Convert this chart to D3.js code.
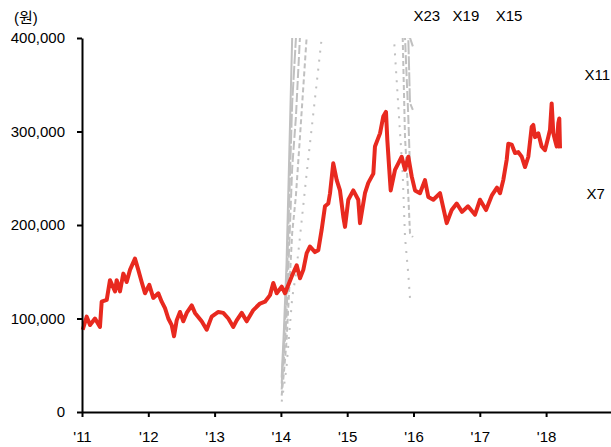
<!DOCTYPE html>
<html>
<head>
<meta charset="utf-8">
<script src="https://cdn.jsdelivr.net/npm/d3@7"></script>
<style>
  body { margin: 0; background: #fff; }
  text { font-family: Arial, "Liberation Sans", sans-serif; }
</style>
</head>
<body>
<div id="chart"></div>
<script>
// 주가 (천원), 연도 소수 표기
const priceT = [2011.011, 2011.071, 2011.121, 2011.196, 2011.271, 2011.297, 2011.373, 2011.422, 2011.498, 2011.523,
  2011.573, 2011.623, 2011.674, 2011.724, 2011.799, 2011.849, 2011.900, 2011.950, 2012.015, 2012.075,
  2012.151, 2012.202, 2012.252, 2012.302, 2012.353, 2012.388, 2012.428, 2012.478, 2012.528, 2012.579,
  2012.655, 2012.704, 2012.805, 2012.881, 2012.956, 2013.056, 2013.131, 2013.207, 2013.282, 2013.333,
  2013.409, 2013.484, 2013.584, 2013.685, 2013.760, 2013.836, 2013.885, 2013.937, 2014.012, 2014.062,
  2014.163, 2014.238, 2014.288, 2014.338, 2014.389, 2014.439, 2014.514, 2014.564, 2014.615, 2014.665,
  2014.715, 2014.741, 2014.790, 2014.842, 2014.891, 2014.941, 2014.967, 2015.017, 2015.092, 2015.167,
  2015.193, 2015.268, 2015.318, 2015.394, 2015.419, 2015.495, 2015.544, 2015.585, 2015.605, 2015.635,
  2015.656, 2015.721, 2015.771, 2015.822, 2015.872, 2015.922, 2015.973, 2016.023, 2016.098, 2016.173,
  2016.223, 2016.299, 2016.400, 2016.501, 2016.576, 2016.652, 2016.732, 2016.822, 2016.928, 2017.003,
  2017.094, 2017.184, 2017.259, 2017.305, 2017.354, 2017.406, 2017.430, 2017.481, 2017.531, 2017.581,
  2017.632, 2017.682, 2017.732, 2017.783, 2017.807, 2017.833, 2017.882, 2017.933, 2017.983, 2018.033,
  2018.059, 2018.084, 2018.109, 2018.134, 2018.160, 2018.184, 2018.199, 2018.210];
const priceV = [88, 102, 93, 100, 91, 118, 120, 141, 129, 141,
  129, 148, 139, 152, 164, 152, 139, 127, 136, 122,
  127, 118, 111, 100, 93, 81, 98, 107, 97, 106,
  114, 106, 97, 88, 102, 107, 106, 100, 91, 98,
  106, 97, 109, 116, 118, 125, 138, 127, 134, 127,
  145, 157, 143, 152, 170, 177, 171, 173, 195, 220,
  223, 234, 266, 248, 237, 209, 198, 227, 237, 227,
  202, 234, 245, 255, 284, 298, 316, 321, 291, 259,
  237, 259, 266, 273, 259, 273, 252, 237, 234, 248,
  230, 227, 234, 202, 216, 223, 214, 220, 211, 227,
  216, 232, 240, 234, 248, 270, 287, 286, 277, 278,
  273, 262, 273, 305, 307, 294, 298, 284, 280, 294,
  302, 330, 298, 291, 284, 309, 314, 282];

// EPS (천원) 추정치와 PER 배수
const epsT = [2014.012, 2014.020, 2014.045, 2014.085, 2014.170, 2014.226, 2014.287, 2014.388, 2014.614,
  2014.800, 2015.200, 2015.600, 2015.706, 2015.837, 2015.872, 2015.922, 2015.947, 2015.990];
const epsV = [1.6, 2.2, 3.8, 6.9, 17.4, 21, 26.7, 36.4, 57, 70, 80, 72, 57, 36.4, 26.7, 21, 17.4, 17];
const multiples = [23, 19, 15, 11, 7];

const yTicks = [0, 100000, 200000, 300000, 400000];
const xTicks = [2011, 2012, 2013, 2014, 2015, 2016, 2017, 2018];
const xTickLabels = ["'11", "'12", "'13", "'14", "'15", "'16", "'17", "'18"];

const width = 611, height = 447;
const margin = { top: 38, left: 82, bottom: 35 };

const svg = d3.select('#chart').append('svg')
  .attr('width', width)
  .attr('height', height);

const x = d3.scaleLinear().domain([2011, 2019]).range([margin.left, margin.left + 8 * 66.3]);
const y = d3.scaleLinear().domain([0, 400000]).range([height - margin.bottom, margin.top]);

svg.append('clipPath').attr('id', 'plot')
  .append('rect')
  .attr('x', margin.left).attr('y', margin.top)
  .attr('width', width - margin.left).attr('height', y(0) - margin.top);

// PER 밴드
const dashes = { 23: null, 19: '14,2', 15: '9,3', 11: '5,3', 7: '2,7' };
const bandLine = d3.line().x(d => x(d[0])).y(d => y(d[1]));
const bands = svg.append('g').attr('clip-path', 'url(#plot)');
multiples.forEach(m => {
  const pts = epsT.map((t, i) => [t, epsV[i] * m * 1000]);
  bands.append('path')
    .attr('d', bandLine(pts))
    .attr('fill', 'none')
    .attr('stroke', '#c0c0c0')
    .attr('stroke-width', 2)
    .attr('stroke-dasharray', dashes[m]);
});

// 주가
const priceLine = d3.line().x(d => x(d[0])).y(d => y(d[1]));
svg.append('path')
  .attr('d', priceLine(priceT.map((t, i) => [t, priceV[i] * 1000])))
  .attr('fill', 'none')
  .attr('stroke', '#e8291f')
  .attr('stroke-width', 4)
  .attr('stroke-linejoin', 'round');

// 축
const yAxis = svg.append('g')
  .attr('transform', `translate(${margin.left},0)`)
  .call(d3.axisLeft(y).tickValues(yTicks).tickSize(5).tickSizeOuter(0).tickFormat(d3.format(',')));
yAxis.select('.domain').attr('stroke-width', 2);
yAxis.selectAll('.tick line').attr('stroke-width', 2);
yAxis.selectAll('text').attr('font-size', 15).attr('x', -17).attr('fill', '#000');

const xAxis = svg.append('g')
  .attr('transform', `translate(0,${y(0)})`)
  .call(d3.axisBottom(x).tickValues(xTicks).tickSize(5).tickSizeOuter(0).tickFormat((d, i) => xTickLabels[i]));
xAxis.select('.domain').attr('stroke-width', 2);
xAxis.selectAll('.tick line').attr('stroke-width', 2);
xAxis.selectAll('text').attr('font-size', 15).attr('y', 19).attr('fill', '#000');

svg.append('text')
  .attr('x', 14).attr('y', 23)
  .attr('font-size', 15)
  .style('font-family', 'Arial, "Noto Sans CJK KR", sans-serif')
  .text('(원)');

// 배수 라벨
const bandLabels = [
  { text: 'X23', t: 2016.0, v: 418000 },
  { text: 'X19', t: 2016.59, v: 418000 },
  { text: 'X15', t: 2017.24, v: 418000 },
  { text: 'X11', t: 2018.58, v: 355000 },
  { text: 'X7', t: 2018.61, v: 228000 }
];
svg.selectAll('text.band')
  .data(bandLabels)
  .enter()
  .append('text')
  .attr('class', 'band')
  .attr('x', d => x(d.t))
  .attr('y', d => y(d.v))
  .attr('font-size', 15)
  .text(d => d.text);
</script>
</body>
</html>
